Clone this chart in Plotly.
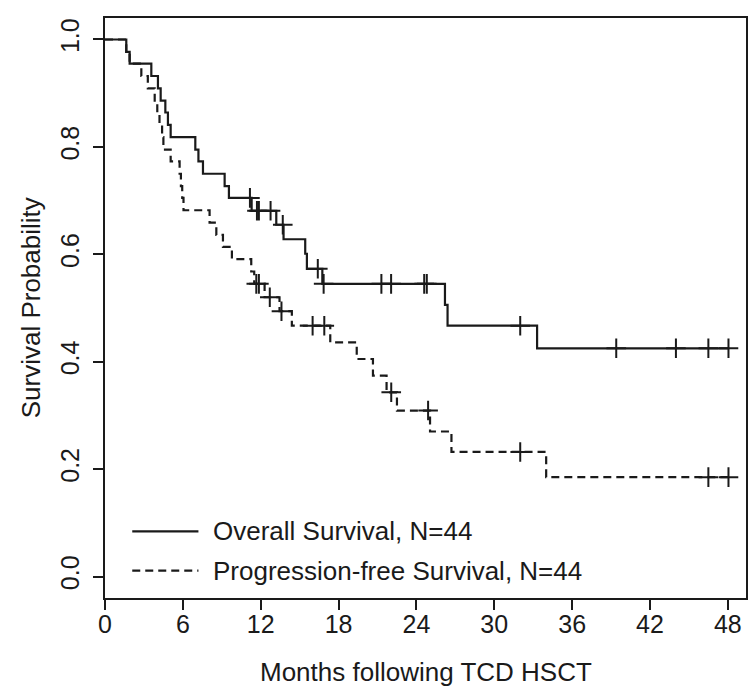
import numpy as np
import plotly.graph_objects as go

# Kaplan-Meier step points (months, survival probability)
os_months = [0, 1.64, 1.9, 3.57, 4.08, 4.29, 4.65, 4.85, 5.06, 6.96,
             7.2, 7.55, 9.22, 9.55, 11.3, 13.2, 13.76, 15.43, 15.56, 16.75,
             26.2, 26.4, 33.3, 48.1]
os_surv = [1.0, 0.977, 0.955, 0.932, 0.909, 0.886, 0.864, 0.841, 0.818, 0.795,
           0.773, 0.750, 0.727, 0.705, 0.681, 0.655, 0.628, 0.601, 0.573, 0.545,
           0.506, 0.467, 0.425, 0.425]
os_censor = [11.17, 11.71, 11.86, 12.76, 13.7, 16.4, 16.85, 21.3, 22.05,
             24.6, 24.8, 32.0, 39.4, 44.0, 46.5, 48.05]

pfs_months = [0, 1.64, 1.9, 2.8, 3.3, 3.83, 4.03, 4.2, 4.4, 4.5,
              5.06, 5.75, 5.85, 5.95, 6.05, 8.06, 8.58, 9.09, 9.78,
              11.27, 11.5, 12.3, 13.45, 14.4, 17.36, 19.4, 20.65, 21.7, 22.5,
              25.05, 26.7, 34.0, 48.1]
pfs_surv = [1.0, 0.977, 0.955, 0.932, 0.909, 0.886, 0.864, 0.841, 0.818, 0.795,
            0.773, 0.750, 0.727, 0.705, 0.682, 0.659, 0.636, 0.614, 0.591,
            0.568, 0.545, 0.520, 0.494, 0.467, 0.436, 0.405, 0.374, 0.343, 0.309,
            0.270, 0.232, 0.185, 0.185]
pfs_censor = [11.66, 11.86, 12.7, 13.6, 16.0, 16.9, 22.06, 24.9, 32.0, 46.5, 48.05]

x_ticks = [0, 6, 12, 18, 24, 30, 36, 42, 48]
y_ticks = [0.0, 0.2, 0.4, 0.6, 0.8, 1.0]

labels = ["Overall Survival, N=44", "Progression-free Survival, N=44"]

INK = "#1a1a1a"
FONT = "Liberation Sans, Arial, Helvetica, sans-serif"


def step_value(times, surv, t):
    '''survival value of the step curve at time t'''
    idx = np.searchsorted(times, t, side="right") - 1
    return surv[idx]


fig = go.Figure()

for months, surv, censor, dash in [
        (os_months, os_surv, os_censor, "solid"),
        (pfs_months, pfs_surv, pfs_censor, "8px,5px")]:

    fig.add_trace(go.Scatter(
        x=months, y=surv,
        mode="lines",
        line=dict(shape="hv", color=INK, width=2.2, dash=dash),
        showlegend=False,
    ))

    fig.add_trace(go.Scatter(
        x=censor,
        y=[step_value(months, surv, t) for t in censor],
        mode="markers",
        marker=dict(symbol="cross-thin", size=14,
                    line=dict(color=INK, width=2)),
        showlegend=False,
    ))

# legend drawn inside the plot, like base R legend()
for i, (label, dash) in enumerate(zip(labels, ["solid", "8px,5px"])):
    yy = 0.084 - i * 0.073
    fig.add_shape(type="line", xref="x", yref="y",
                  x0=2.1, x1=7.2, y0=yy, y1=yy,
                  line=dict(color=INK, width=2.2, dash=dash))
    fig.add_annotation(x=8.2, y=yy, xref="x", yref="y",
                       text=label, showarrow=False,
                       xanchor="left", yanchor="middle",
                       font=dict(size=26, color=INK, family=FONT))

# axis titles
fig.add_annotation(x=0.5, y=-0.128, xref="paper", yref="paper",
                   text="Months following TCD HSCT", showarrow=False,
                   xanchor="center", yanchor="middle",
                   font=dict(size=26, color=INK, family=FONT))
fig.add_annotation(x=-0.115, y=0.5, xref="paper", yref="paper",
                   text="Survival Probability", showarrow=False, textangle=-90,
                   xanchor="center", yanchor="middle",
                   font=dict(size=26, color=INK, family=FONT))

fig.update_xaxes(
    range=[0, 49.4], automargin=False,
    tickvals=x_ticks,
    ticks="outside", ticklen=10, tickwidth=1.5, tickcolor=INK,
    ticklabelstandoff=-7,
    showline=True, linecolor=INK, linewidth=2, mirror=True,
    showgrid=False, zeroline=False,
    tickfont=dict(size=25, color=INK, family=FONT),
)
fig.update_yaxes(
    range=[-0.04, 1.04], automargin=False,
    tickvals=y_ticks, tickformat=".1f", tickangle=-90,
    ticks="outside", ticklen=10, tickwidth=1.5, tickcolor=INK,
    ticklabelstandoff=4,
    showline=True, linecolor=INK, linewidth=2, mirror=True,
    showgrid=False, zeroline=False,
    tickfont=dict(size=25, color=INK, family=FONT),
)

fig.update_layout(
    width=756, height=691,
    margin=dict(l=97, r=18, t=10, b=101),
    plot_bgcolor="white",
    paper_bgcolor="white",
)

fig.write_html("out.html")
